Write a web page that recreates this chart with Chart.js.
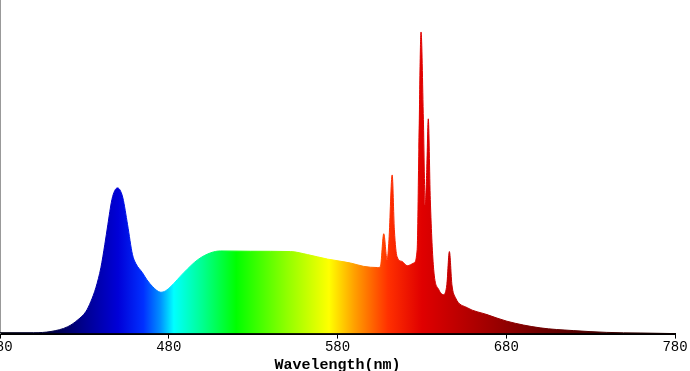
<!DOCTYPE html>
<html>
<head>
<meta charset="utf-8">
<script src="https://cdn.jsdelivr.net/npm/chart.js@4/dist/chart.umd.min.js"></script>
<style>
  html, body { margin: 0; padding: 0; background: #fff; overflow: hidden; width: 690px; height: 371px; }
  #wrap { position: absolute; left: -30px; top: 0; width: 720px; height: 374px; }
</style>
</head>
<body>
<div id="wrap"><canvas id="spectrum"></canvas></div>
<script>
// wavelength (nm) and relative intensity (tallest line = 1)
var wavelengths = [380, 400, 410.2, 420.2, 426.2, 430.9, 433.8, 436.8, 439.8, 442.1,
  443.9, 446.3, 448.0, 449.6, 451.0, 452.8, 455.6, 458.5, 460.5, 464.4,
  467.0, 470.4, 475.3, 478.2, 481.2, 488.9, 497.2, 504.9, 510.8, 528.5,
  552.2, 562.2, 574.1, 587.7, 595.4, 603.7, 605.4, 607.4, 609.4, 610.5,
  612.4, 613.7, 615.3, 618.3, 621.3, 625.2, 627.2, 628.2, 629.5, 630.9,
  632.0, 632.9, 633.8, 635.0, 637.0, 640.0, 642.9, 644.8, 646.3, 647.8,
  649.9, 656.8, 668.6, 680.4, 700.1, 719.7, 739.6, 759.3, 780];
var intensity = [0.003, 0.003, 0.007, 0.023, 0.046, 0.073, 0.106, 0.152, 0.219, 0.295,
  0.361, 0.444, 0.474, 0.483, 0.477, 0.450, 0.361, 0.262, 0.232, 0.202,
  0.179, 0.156, 0.137, 0.142, 0.156, 0.202, 0.245, 0.268, 0.274, 0.273,
  0.272, 0.262, 0.247, 0.234, 0.223, 0.219, 0.222, 0.331, 0.245, 0.311,
  0.526, 0.344, 0.255, 0.239, 0.225, 0.234, 0.278, 0.609, 1.000, 0.709,
  0.427, 0.543, 0.712, 0.444, 0.212, 0.146, 0.129, 0.162, 0.272, 0.162,
  0.119, 0.086, 0.063, 0.041, 0.019, 0.010, 0.004, 0.002, 0.000];
var xTicks = [380, 480, 580, 680, 780];
var xTitle = 'Wavelength(nm)';

// colour of the fill at each wavelength
var spectrumColors = [
  [380, '#000010'], [410, '#000040'], [430, '#000090'], [450, '#0000d8'],
  [465, '#0030ff'], [475, '#0090ff'], [483, '#00ffff'], [500, '#00ff90'],
  [520, '#00ff00'], [550, '#90ff00'], [575, '#ffff00'], [590, '#ffa000'],
  [610, '#ff3000'], [630, '#e00000'], [660, '#b00000'], [700, '#700000'],
  [740, '#400000'], [780, '#180000']
];

function spectrumGradient(context) {
  var chart = context.chart;
  var area = chart.chartArea;
  if (!area) return '#00f';
  var g = chart.ctx.createLinearGradient(area.left, 0, area.right, 0);
  spectrumColors.forEach(function (s) {
    g.addColorStop((s[0] - 380) / 400, s[1]);
  });
  return g;
}

var points = wavelengths.map(function (w, i) { return { x: w, y: intensity[i] }; });

var ctx = document.getElementById('spectrum').getContext('2d');
var spectrumChart = new Chart(ctx, {
  type: 'line',
  data: {
    datasets: [{
      data: points,
      fill: 'origin',
      backgroundColor: spectrumGradient,
      borderColor: spectrumGradient,
      borderWidth: 1,
      pointRadius: 0,
      cubicInterpolationMode: 'monotone'
    }]
  },
  options: {
    responsive: true,
    maintainAspectRatio: false,
    animation: false,
    devicePixelRatio: 1,
    layout: { padding: { left: 22, right: 15, top: 0, bottom: 0 } },
    plugins: { legend: { display: false }, tooltip: { enabled: false } },
    scales: {
      x: {
        type: 'linear',
        min: 380,
        max: 780,
        afterBuildTicks: function (scale) {
          scale.ticks = xTicks.map(function (v) { return { value: v }; });
        },
        ticks: {
          autoSkip: false,
          maxRotation: 0,
          padding: 1,
          color: '#000',
          font: { family: 'Liberation Mono', size: 14, lineHeight: 1.1 }
        },
        grid: { drawOnChartArea: false, drawTicks: true, tickLength: 5, color: '#000' },
        border: { color: '#000', width: 2 },
        title: {
          display: true,
          text: xTitle,
          color: '#000',
          padding: { top: 0, bottom: 0 },
          font: { family: 'Liberation Mono', size: 15, weight: 'bold' }
        }
      },
      y: {
        min: 0,
        max: 1.106,
        ticks: { display: false },
        grid: { display: false },
        border: { color: '#999', width: 2 }
      }
    }
  }
});
</script>
</body>
</html>
